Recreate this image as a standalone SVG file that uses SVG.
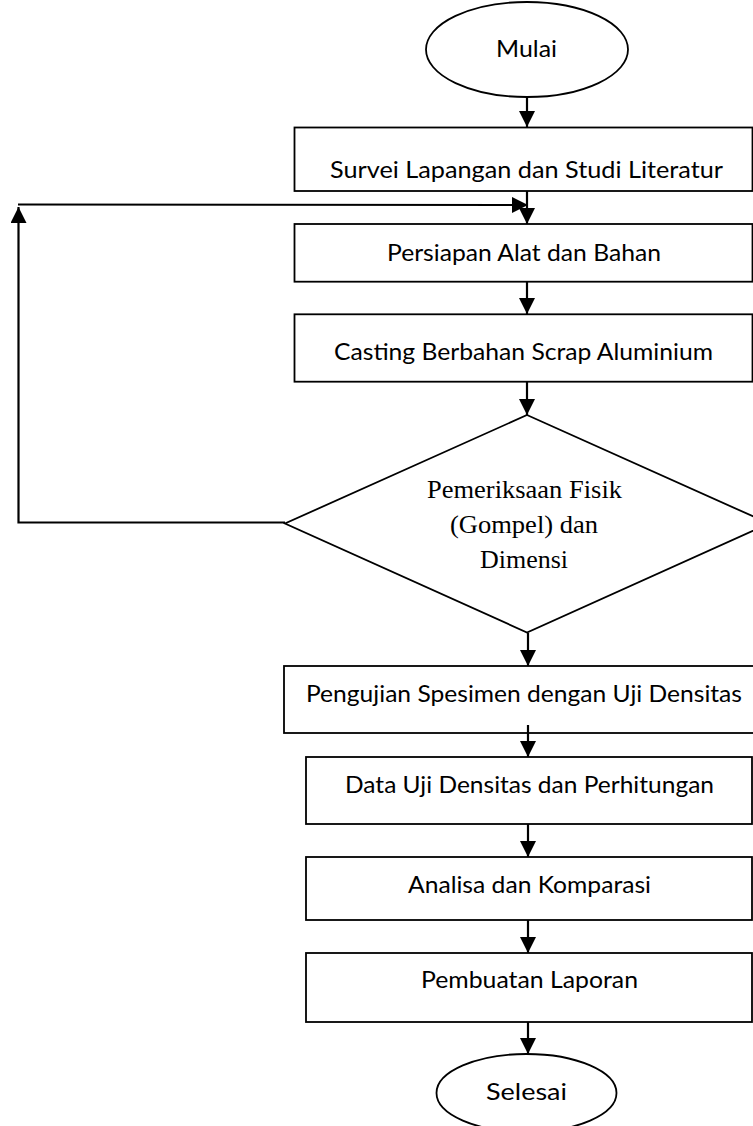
<svg xmlns="http://www.w3.org/2000/svg" width="753" height="1126" viewBox="0 0 753 1126">
<style>
.shape{fill:#fff;stroke:#000;stroke-width:1.8}
.t{font-family:Lato,"Open Sans","Liberation Sans",sans-serif;font-size:23px;fill:#000;text-anchor:middle}
.s{font-family:"Liberation Serif","Times New Roman",serif;font-size:25px;fill:#000;text-anchor:middle}
.c{fill:none;stroke:#000;stroke-width:2.2}
</style>
<defs>
<marker id="ah" markerUnits="userSpaceOnUse" markerWidth="16" markerHeight="16" viewBox="0 0 15 15" refX="15" refY="7.5" orient="auto">
<path d="M0,0 L15,7.5 L0,15 z" fill="#000"/>
</marker>
</defs>
<g id="connectors">
<line class="c" x1="527" y1="97" x2="527" y2="127" marker-end="url(#ah)"/>
<line class="c" x1="527" y1="191" x2="527" y2="224" marker-end="url(#ah)"/>
<line class="c" x1="527" y1="282" x2="527" y2="314" marker-end="url(#ah)"/>
<line class="c" x1="527" y1="382" x2="527" y2="415" marker-end="url(#ah)"/>
<line class="c" x1="528" y1="633" x2="528" y2="666" marker-end="url(#ah)"/>
<line class="c" x1="528" y1="725" x2="528" y2="757" marker-end="url(#ah)"/>
<line class="c" x1="528" y1="824" x2="528" y2="857" marker-end="url(#ah)"/>
<line class="c" x1="528" y1="920" x2="528" y2="953" marker-end="url(#ah)"/>
<line class="c" x1="528" y1="1022" x2="528" y2="1054" marker-end="url(#ah)"/>
<polyline class="c" points="285,522.5 18.5,522.5 18.5,207" marker-end="url(#ah)"/>
<line class="c" x1="18" y1="204.5" x2="528" y2="205" marker-end="url(#ah)"/>
</g>
<g id="mulai">
<ellipse class="shape" cx="527" cy="49.5" rx="101" ry="47.5"/>
<text class="t" x="526.5" y="57" textLength="61" lengthAdjust="spacingAndGlyphs">Mulai</text>
</g>
<g id="survei">
<rect class="shape" x="294.5" y="127.5" width="458" height="63.5"/>
<text class="t" x="526.5" y="178" textLength="393" lengthAdjust="spacingAndGlyphs">Survei Lapangan dan Studi Literatur</text>
</g>
<g id="persiapan">
<rect class="shape" x="294.5" y="224" width="458" height="57.7"/>
<text class="t" x="524" y="261" textLength="274" lengthAdjust="spacingAndGlyphs">Persiapan Alat dan Bahan</text>
</g>
<g id="casting">
<rect class="shape" x="294.5" y="314.3" width="458" height="67.4"/>
<text class="t" x="523.5" y="360" textLength="379" lengthAdjust="spacingAndGlyphs">Casting Berbahan Scrap Aluminium</text>
</g>
<g id="pemeriksaan">
<polygon class="shape" points="527,415 769,523.5 527,632.5 285,523.5"/>
<text class="s" x="524.5" y="498" textLength="195" lengthAdjust="spacingAndGlyphs">Pemeriksaan Fisik</text>
<text class="s" x="524" y="533" textLength="148" lengthAdjust="spacingAndGlyphs">(Gompel) dan</text>
<text class="s" x="524" y="568" textLength="88" lengthAdjust="spacingAndGlyphs">Dimensi</text>
</g>
<g id="pengujian">
<rect class="shape" x="284" y="666" width="470" height="67" style="fill:none"/>
<text class="t" x="524" y="702" textLength="436" lengthAdjust="spacingAndGlyphs">Pengujian Spesimen dengan Uji Densitas</text>
</g>
<g id="data">
<rect class="shape" x="306" y="757" width="446" height="67"/>
<text class="t" x="529.5" y="793" textLength="369" lengthAdjust="spacingAndGlyphs">Data Uji Densitas dan Perhitungan</text>
</g>
<g id="analisa">
<rect class="shape" x="306" y="857" width="446" height="63"/>
<text class="t" x="529.5" y="893" textLength="243" lengthAdjust="spacingAndGlyphs">Analisa dan Komparasi</text>
</g>
<g id="pembuatan">
<rect class="shape" x="306" y="953" width="446" height="69"/>
<text class="t" x="529.5" y="988" textLength="217" lengthAdjust="spacingAndGlyphs">Pembuatan Laporan</text>
</g>
<g id="selesai">
<ellipse class="shape" cx="526.5" cy="1093" rx="90" ry="39"/>
<text class="t" x="526.5" y="1100" textLength="81" lengthAdjust="spacingAndGlyphs">Selesai</text>
</g>
</svg>
